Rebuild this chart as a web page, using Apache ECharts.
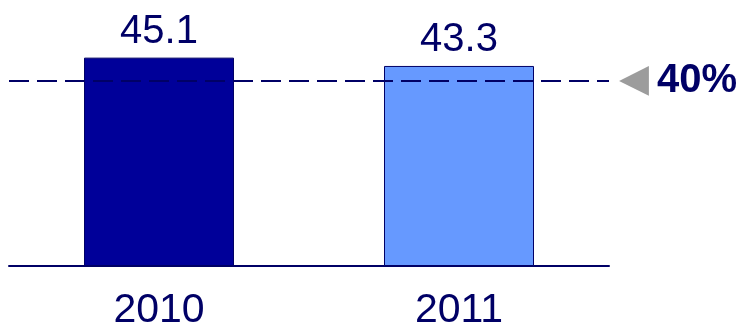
<!DOCTYPE html>
<html>
<head>
<meta charset="utf-8">
<script src="https://cdn.jsdelivr.net/npm/echarts@6/dist/echarts.min.js"></script>
<style>
html,body{margin:0;padding:0;background:#fff;}
#chart{width:744px;height:323px;}
</style>
</head>
<body>
<div id="chart"></div>
<script>
const categories = ['2010', '2011'];
const values = [45.1, 43.3];
const barColors = ['#000099', '#6699FF'];
const targetValue = 40;
const targetLabel = '40%';

const chart = echarts.init(document.getElementById('chart'), null, {renderer: 'canvas'});
const navy = '#000066';
chart.setOption({
  animation: false,
  backgroundColor: '#ffffff',
  grid: {left: 9, right: 135, top: 35, bottom: 57, containLabel: false, outerBoundsMode: 'none'},
  xAxis: {
    type: 'category',
    data: categories,
    boundaryGap: true,
    axisLine: {lineStyle: {color: navy, width: 2}},
    axisTick: {show: false},
    axisLabel: {color: navy, fontSize: 41, fontFamily: 'Liberation Sans, Arial, sans-serif', margin: 24}
  },
  yAxis: {
    type: 'value', min: 0, max: 50, show: false,
    splitLine: {show: false}
  },
  series: [{
    type: 'bar',
    barWidth: 150,
    data: values.map((v, i) => ({
      value: v,
      itemStyle: {color: barColors[i], borderColor: navy, borderWidth: 1}
    })),
    label: {
      show: true, position: 'top', distance: 6,
      color: navy, fontSize: 40, fontFamily: 'Liberation Sans, Arial, sans-serif'
    },
    markLine: {
      silent: true,
      symbol: 'none',
      z: 10,
      lineStyle: {color: navy, width: 2, type: [20, 8]},
      label: {
        show: true, position: 'end', distance: 10,
        formatter: '{t|\u25C0}{p|' + targetLabel + '}',
        rich: {
          t: {color: '#9c9c9c', fontSize: 39, fontFamily: 'DejaVu Sans', padding: [0, 8, 0, 0]},
          p: {color: navy, fontSize: 40, fontWeight: 'bold', fontFamily: 'Liberation Sans, Arial, sans-serif'}
        }
      },
      data: [{yAxis: targetValue}]
    }
  }]
});
</script>
</body>
</html>
